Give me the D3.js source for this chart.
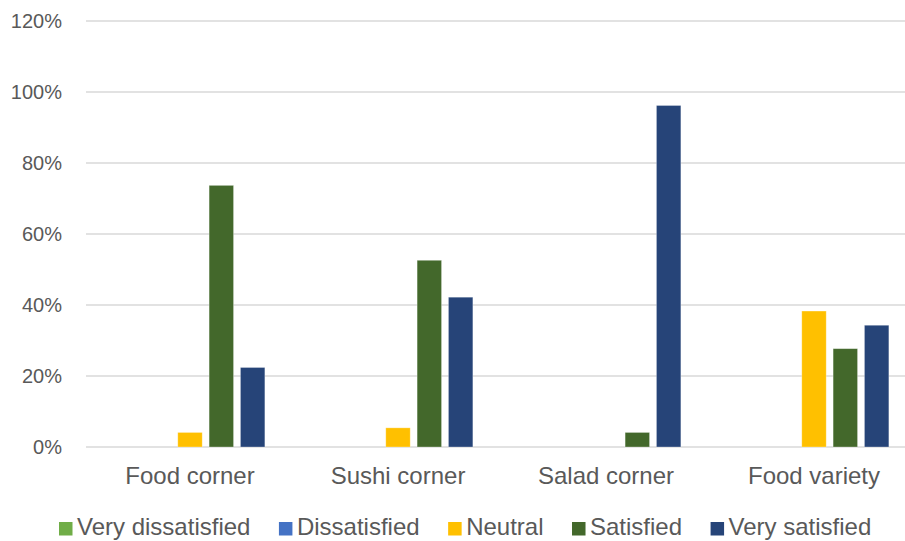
<!DOCTYPE html>
<html>
<head>
<meta charset="utf-8">
<script src="https://d3js.org/d3.v7.min.js"></script>
<style>
  body { margin: 0; background: #fff; }
  text { font-family: "Liberation Sans", Arial, sans-serif; fill: #595959; }
  .grid line { stroke: #d9d9d9; stroke-width: 1.5; }
</style>
</head>
<body>
<svg width="905" height="541"></svg>
<script>
// data
var categories = ["Food corner", "Sushi corner", "Salad corner", "Food variety"];
var series = ["Very dissatisfied", "Dissatisfied", "Neutral", "Satisfied", "Very satisfied"];
var colors = ["#70AD47", "#4472C4", "#FFC000", "#43682B", "#264478"];
var veryDissatisfied = [0, 0, 0, 0];
var dissatisfied = [0, 0, 0, 0];
var neutral = [4.1, 5.4, 0, 38.3];
var satisfied = [73.7, 52.6, 4.1, 27.7];
var verySatisfied = [22.4, 42.2, 96.2, 34.3];
var yTicks = [0, 20, 40, 60, 80, 100, 120];

var values = [veryDissatisfied, dissatisfied, neutral, satisfied, verySatisfied];

var svg = d3.select("svg"),
    margin = {top: 21, left: 86},
    plotW = 832,
    plotH = 426;

var g = svg.append("g")
    .attr("transform", "translate(" + margin.left + "," + margin.top + ")");

var x0 = d3.scaleBand().domain(categories).range([0, plotW]);
var x1 = d3.scaleBand().domain(series).range([0, x0.bandwidth()])
    .paddingInner(0.22).paddingOuter(0.93);
var y = d3.scaleLinear().domain([0, 120]).range([plotH, 0]);

// gridlines
g.append("g")
    .attr("class", "grid")
    .selectAll("line")
    .data(yTicks)
    .enter().append("line")
      .attr("x1", 0)
      .attr("x2", plotW)
      .attr("y1", function(d) { return y(d); })
      .attr("y2", function(d) { return y(d); });

// y labels
var yAxis = g.append("g")
    .call(d3.axisLeft(y).tickValues(yTicks).tickSize(0).tickPadding(24)
      .tickFormat(function(d) { return d + "%"; }));
yAxis.select(".domain").remove();
yAxis.selectAll("text").style("font-size", "20px").attr("fill", "#595959")
    .style("font-family", "Liberation Sans, Arial, sans-serif");

// x labels
var xAxis = g.append("g")
    .attr("transform", "translate(0," + plotH + ")")
    .call(d3.axisBottom(x0).tickSize(0).tickPadding(20));
xAxis.select(".domain").remove();
xAxis.selectAll("text").style("font-size", "24px").attr("fill", "#595959")
    .style("font-family", "Liberation Sans, Arial, sans-serif");

// bars
var groups = g.selectAll(".cat")
    .data(categories)
    .enter().append("g")
      .attr("class", "cat")
      .attr("transform", function(d) { return "translate(" + x0(d) + ",0)"; });

groups.selectAll("rect")
    .data(function(d, i) {
      return series.map(function(s, j) { return {s: s, v: values[j][i], c: colors[j]}; });
    })
    .enter().append("rect")
      .filter(function(d) { return d.v > 0; })
      .attr("x", function(d) { return x1(d.s); })
      .attr("y", function(d) { return y(d.v); })
      .attr("width", x1.bandwidth())
      .attr("height", function(d) { return plotH - y(d.v); })
      .attr("fill", function(d) { return d.c; })
      .attr("stroke", "#ffffff")
      .attr("stroke-opacity", 0.4)
      .attr("stroke-width", 0.75);

// legend
var legend = svg.append("g").attr("transform", "translate(59,535)");
var lx = 0;
series.forEach(function(s, i) {
  var item = legend.append("g").attr("transform", "translate(" + lx + ",0)");
  item.append("rect")
      .attr("x", 0).attr("y", -13)
      .attr("width", 13.5).attr("height", 13.5)
      .attr("fill", colors[i]);
  var t = item.append("text")
      .attr("x", 18).attr("y", 0)
      .style("font-size", "24px")
      .text(s);
  lx += 18 + t.node().getComputedTextLength() + 28.5;
});
</script>
</body>
</html>
